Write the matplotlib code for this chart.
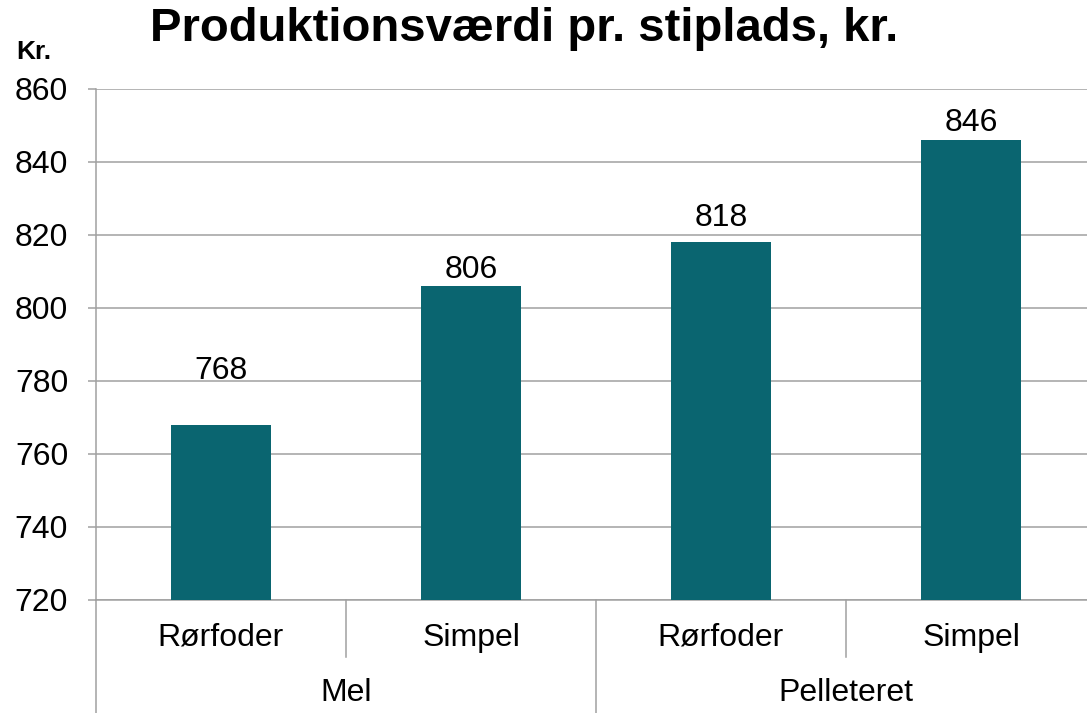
import matplotlib
matplotlib.use("Agg")
import matplotlib.pyplot as plt
import matplotlib.transforms as mtransforms

# --- Data ---
groups = ["Mel", "Pelleteret"]
categories = ["Rørfoder", "Simpel", "Rørfoder", "Simpel"]
values = [768, 806, 818, 846]
yticks = [720, 740, 760, 780, 800, 820, 840, 860]

# --- Style ---
BAR_COLOR = "#0A6570"
GRID_COLOR = "#A0A0A0"
FONT = ["Liberation Sans", "DejaVu Sans"]
FS = 23
label_gap_pt = [33, 6, 12, 6.5]  # gap between bar top and value label

plt.rcParams["font.family"] = FONT

fig = plt.figure(figsize=(10.87, 7.13), dpi=100)
ax = fig.add_axes([96 / 1087, 113 / 713, 1000 / 1087, 511 / 713])

x = list(range(len(values)))
ax.bar(x, values, width=0.4, color=BAR_COLOR, zorder=3)

ax.set_xlim(-0.5, len(values) - 0.5)
ax.set_ylim(yticks[0], yticks[-1])
ax.set_yticks(yticks)
ax.set_xticks([])
ax.grid(axis="y", color=GRID_COLOR, linewidth=1.1, zorder=0)
ax.tick_params(axis="y", labelsize=FS, length=6, width=1.1, color=GRID_COLOR, pad=14)

for s in ["top", "right"]:
    ax.spines[s].set_visible(False)
ax.spines["left"].set_color(GRID_COLOR)
ax.spines["left"].set_linewidth(1.1)
ax.spines["bottom"].set_color(GRID_COLOR)
ax.spines["bottom"].set_linewidth(1.1)

# value labels
for xi, v, gap in zip(x, values, label_gap_pt):
    ax.annotate(str(v), (xi, v), xytext=(0, gap), textcoords="offset points",
                ha="center", va="baseline", fontsize=FS)

# hierarchical x axis
trans = mtransforms.blended_transform_factory(ax.transData, ax.transAxes)
short_len = 57 / 511
long_len = 113 / 511
for b in [-0.5, 0.5, 1.5, 2.5]:
    depth = long_len if (b + 0.5) % 2 == 0 else short_len
    ax.plot([b, b], [0, -depth], transform=trans, color=GRID_COLOR,
            linewidth=1.1, clip_on=False)

for xi, c in zip(x, categories):
    ax.text(xi, -38 / 511, c, transform=trans, ha="center", va="center", fontsize=FS)

n_per_group = len(categories) // len(groups)
for gi, g in enumerate(groups):
    center = gi * n_per_group + (n_per_group - 1) / 2
    ax.text(center, -93 / 511, g, transform=trans, ha="center", va="center", fontsize=FS)

fig.text(524 / 1087, 1 - 29 / 713, "Produktionsværdi pr. stiplads, kr.",
         ha="center", va="center", fontsize=34, fontweight="bold")
fig.text(34 / 1087, 1 - 52 / 713, "Kr.", ha="center", va="center",
         fontsize=19, fontweight="bold")

fig.savefig("out.png", dpi=100)
